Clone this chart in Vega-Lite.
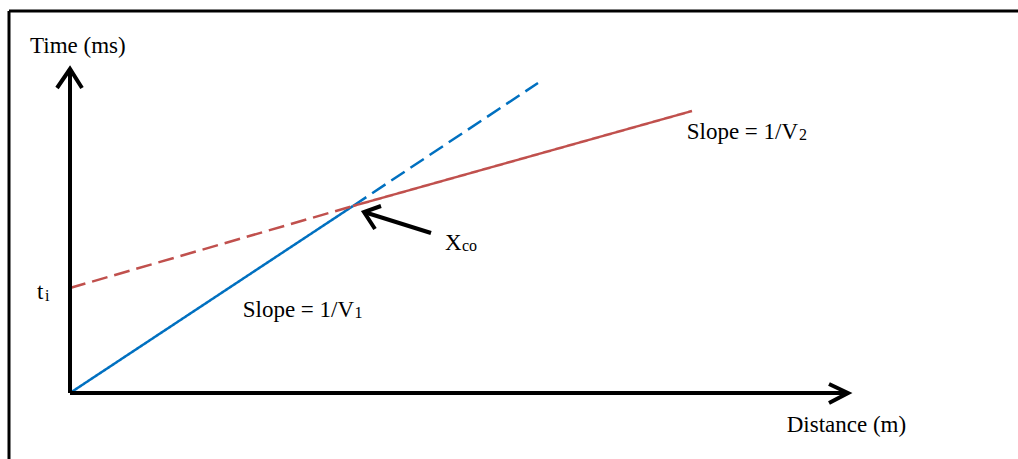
{
  "$schema": "https://vega.github.io/schema/vega-lite/v6.json",
  "width": 1018,
  "height": 459,
  "autosize": {"type": "none"},
  "padding": 0,
  "background": "white",
  "config": {"view": {"stroke": null}},
  "datasets": {
    "arrivals": [
      {"wave": "direct", "part": "solid", "step": 0, "distance": 0, "time": 0},
      {"wave": "direct", "part": "solid", "step": 1, "distance": 28.3, "time": 18.7},
      {"wave": "direct", "part": "dashed", "step": 0, "distance": 28.3, "time": 18.7},
      {"wave": "direct", "part": "dashed", "step": 1, "distance": 46.8, "time": 31.0},
      {"wave": "refracted", "part": "dashed", "step": 0, "distance": 0, "time": 10.5},
      {"wave": "refracted", "part": "dashed", "step": 1, "distance": 28.3, "time": 18.7},
      {"wave": "refracted", "part": "solid", "step": 0, "distance": 28.3, "time": 18.7},
      {"wave": "refracted", "part": "solid", "step": 1, "distance": 62.2, "time": 28.2}
    ],
    "arrows": [
      {"piece": "time shaft", "step": 0, "distance": 0, "time": 0},
      {"piece": "time shaft", "step": 1, "distance": 0, "time": 32.4},
      {"piece": "time head", "step": 0, "distance": -1.3, "time": 30.5},
      {"piece": "time head", "step": 1, "distance": 0, "time": 32.4},
      {"piece": "time head", "step": 2, "distance": 1.2, "time": 30.5},
      {"piece": "distance shaft", "step": 0, "distance": 0, "time": 0},
      {"piece": "distance shaft", "step": 1, "distance": 77.8, "time": 0},
      {"piece": "distance head", "step": 0, "distance": 75.9, "time": 0.9},
      {"piece": "distance head", "step": 1, "distance": 77.8, "time": 0},
      {"piece": "distance head", "step": 2, "distance": 75.9, "time": -1.0},
      {"piece": "crossover shaft", "step": 0, "distance": 36.1, "time": 16.0},
      {"piece": "crossover shaft", "step": 1, "distance": 29.4, "time": 18.1},
      {"piece": "crossover head", "step": 0, "distance": 31.1, "time": 18.7},
      {"piece": "crossover head", "step": 1, "distance": 29.4, "time": 18.1},
      {"piece": "crossover head", "step": 2, "distance": 30.5, "time": 16.4}
    ],
    "frame": [
      {"side": "left", "distance": -6.1, "distance2": -6.1, "time": -20, "time2": 38.2},
      {"side": "top", "distance": -6.1, "distance2": 120, "time": 38.2, "time2": 38.2}
    ],
    "labels": [
      {"label": "Time (ms)", "distance": -4.0, "time": 34.0},
      {"label": "t", "distance": -3.3, "time": 9.4},
      {"label": "X", "distance": 37.5, "time": 14.3},
      {"label": "Slope = 1/V", "distance": 17.27, "time": 7.6},
      {"label": "Slope = 1/V", "distance": 61.67, "time": 25.4},
      {"label": "Distance (m)", "distance": 71.67, "time": -3.9}
    ],
    "subscripts": [
      {"label": "i", "distance": -2.5, "time": 9.2},
      {"label": "co", "distance": 39.2, "time": 14.2},
      {"label": "1", "distance": 28.45, "time": 7.5},
      {"label": "2", "distance": 72.9, "time": 25.3}
    ]
  },
  "encoding": {
    "x": {"field": "distance", "type": "quantitative", "axis": null,
          "scale": {"domain": [-7, 94.8], "nice": false, "zero": false}},
    "y": {"field": "time", "type": "quantitative", "axis": null,
          "scale": {"domain": [-6.6, 39.3], "nice": false, "zero": false}}
  },
  "layer": [
    {
      "data": {"name": "frame"},
      "mark": {"type": "rule", "stroke": "black", "strokeWidth": 3},
      "encoding": {
        "x2": {"field": "distance2"},
        "y2": {"field": "time2"}
      }
    },
    {
      "data": {"name": "arrivals"},
      "mark": {"type": "line", "strokeWidth": 2.5},
      "encoding": {
        "color": {"field": "wave", "type": "nominal", "legend": null,
                  "scale": {"domain": ["direct", "refracted"], "range": ["#0070C0", "#C0504D"]}},
        "strokeDash": {"field": "part", "type": "nominal", "legend": null,
                       "scale": {"domain": ["solid", "dashed"], "range": [[1, 0], [16, 7]]}},
        "detail": {"field": "wave"},
        "order": {"field": "step"}
      }
    },
    {
      "data": {"name": "arrows"},
      "mark": {"type": "line", "stroke": "black", "strokeWidth": 4, "strokeJoin": "miter", "strokeCap": "butt"},
      "encoding": {
        "detail": {"field": "piece"},
        "order": {"field": "step"}
      }
    },
    {
      "data": {"name": "labels"},
      "mark": {"type": "text", "font": "Liberation Serif", "fontSize": 23, "align": "left", "baseline": "alphabetic", "color": "black"},
      "encoding": {"text": {"field": "label"}}
    },
    {
      "data": {"name": "subscripts"},
      "mark": {"type": "text", "font": "Liberation Serif", "fontSize": 16, "align": "left", "baseline": "alphabetic", "color": "black"},
      "encoding": {"text": {"field": "label"}}
    }
  ]
}
